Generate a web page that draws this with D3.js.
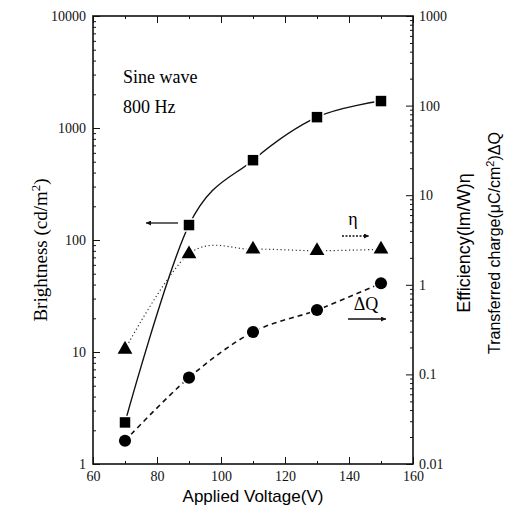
<!DOCTYPE html>
<html lang="en">
<head>
<meta charset="utf-8">
<title>Brightness, efficiency and transferred charge</title>
<script src="https://d3js.org/d3.v7.min.js"></script>
<style>
  body { margin: 0; background: #fff; }
  .tick text { font-family: "Liberation Serif", serif; font-size: 14px; fill: #111; }
  .domain, .tick line { stroke: #111; }
</style>
</head>
<body>
<svg width="512" height="516"></svg>
<script>
// data
var voltage = [70, 90, 110, 130, 150];
var brightness = [2.35, 136, 516, 1250, 1740];     // cd/m2, left axis
var efficiency = [0.19, 2.21, 2.49, 2.40, 2.49];   // lm/W, right axis
var charge = [0.0182, 0.092, 0.297, 0.523, 1.04];  // uC/cm2, right axis
var xTicks = [60, 80, 100, 120, 140, 160];
var leftTicks = [1, 10, 100, 1000, 10000];
var rightTicks = [0.01, 0.1, 1, 10, 100, 1000];

var svg = d3.select("svg");
var L = 93, R = 413, T = 16, B = 464;

var x = d3.scaleLinear().domain([60, 160]).range([L, R]);
var yL = d3.scaleLog().domain([1, 10000]).range([B, T]);
var yR = d3.scaleLog().domain([0.01, 1000]).range([B, T]);

function minors(lo, hi) {
  var out = [];
  for (var d = lo; d < hi; d *= 10)
    for (var k = 2; k < 10; k++) out.push(d * k);
  return out;
}

// frame
svg.append("rect").attr("x", L).attr("y", T).attr("width", R - L).attr("height", B - T)
  .attr("fill", "none").attr("stroke", "#111").attr("stroke-width", 1.6);

// left axis
svg.append("g").attr("transform", "translate(" + L + ",0)")
  .call(d3.axisLeft(yL).tickValues(leftTicks).tickSize(-7).tickPadding(7).tickFormat(d3.format("d")));
svg.append("g").attr("transform", "translate(" + L + ",0)")
  .call(d3.axisLeft(yL).tickValues(minors(1, 10000)).tickSize(-3).tickFormat(""));

// right axis
svg.append("g").attr("transform", "translate(" + R + ",0)")
  .call(d3.axisRight(yR).tickValues(rightTicks).tickSize(-7).tickPadding(6)
    .tickFormat(function(d) { return d < 1 ? String(d) : d3.format("d")(d); }));
svg.append("g").attr("transform", "translate(" + R + ",0)")
  .call(d3.axisRight(yR).tickValues(minors(0.01, 1000)).tickSize(-3).tickFormat(""));

// bottom and top axes
svg.append("g").attr("transform", "translate(0," + B + ")")
  .call(d3.axisBottom(x).tickValues(xTicks).tickSize(-7).tickPadding(7).tickFormat(d3.format("d")));
svg.append("g").attr("transform", "translate(0," + B + ")")
  .call(d3.axisBottom(x).tickValues(d3.range(70, 160, 20)).tickSize(-3).tickFormat(""));
svg.append("g").attr("transform", "translate(0," + T + ")")
  .call(d3.axisTop(x).tickValues(xTicks).tickSize(-7).tickFormat(""));
svg.append("g").attr("transform", "translate(0," + T + ")")
  .call(d3.axisTop(x).tickValues(d3.range(70, 160, 20)).tickSize(-3).tickFormat(""));
svg.selectAll(".domain").remove();

// curves
var curve = d3.curveCardinal.tension(0);
var lineB = d3.line().curve(curve)
  .x(function(d, i) { return x(voltage[i]); }).y(function(d) { return yL(d); });
var lineR = d3.line().curve(curve)
  .x(function(d, i) { return x(voltage[i]); }).y(function(d) { return yR(d); });

svg.append("path").attr("d", lineB(brightness)).attr("fill", "none")
  .attr("stroke", "#111").attr("stroke-width", 1.4);
svg.append("path").attr("d", lineR(efficiency)).attr("fill", "none")
  .attr("stroke", "#333").attr("stroke-width", 1.2).attr("stroke-dasharray", "1.2,2.6");
svg.append("path").attr("d", lineR(charge)).attr("fill", "none")
  .attr("stroke", "#111").attr("stroke-width", 1.6).attr("stroke-dasharray", "5,4");

// markers
var sym = d3.symbol();
function markers(vals, scale, type, size) {
  svg.append("g").selectAll("path").data(vals).enter().append("path")
    .attr("transform", function(d, i) { return "translate(" + x(voltage[i]) + "," + scale(d) + ")"; })
    .attr("d", sym.type(type).size(size)())
    .attr("fill", "#000").attr("stroke", "#fff").attr("stroke-width", 3).attr("paint-order", "stroke");
}
markers(brightness, yL, d3.symbolSquare, 110);
markers(efficiency, yR, d3.symbolTriangle, 95);
markers(charge, yR, d3.symbolCircle, 115);

// arrows
svg.append("defs").append("marker").attr("id", "head")
  .attr("viewBox", "0 -5 10 10").attr("refX", 10).attr("refY", 0)
  .attr("markerWidth", 8).attr("markerHeight", 5).attr("markerUnits", "userSpaceOnUse")
  .attr("orient", "auto")
  .append("path").attr("d", "M0,-5L10,0L0,5Z").attr("fill", "#111");

function arrow(x1, x2, y, dash) {
  svg.append("line").attr("x1", x1).attr("x2", x2).attr("y1", y).attr("y2", y)
    .attr("stroke", "#111").attr("stroke-width", 1.3)
    .attr("stroke-dasharray", dash || null)
    .attr("marker-end", "url(#head)");
}
arrow(178, 146, 223);
arrow(342, 369, 236, "2,1.5");
arrow(348, 386, 319);

// annotations
var serif = "Liberation Serif, serif", sans = "Liberation Sans, Arial, sans-serif";
svg.append("text").attr("x", 123).attr("y", 83).attr("font-family", serif)
  .attr("font-size", 18).text("Sine wave");
svg.append("text").attr("x", 123).attr("y", 113).attr("font-family", serif)
  .attr("font-size", 18).text("800 Hz");
svg.append("text").attr("x", 353).attr("y", 225).attr("text-anchor", "middle")
  .attr("font-family", serif).attr("font-size", 18).text("η");
svg.append("text").attr("x", 366).attr("y", 310).attr("text-anchor", "middle")
  .attr("font-family", serif).attr("font-size", 18).text("ΔQ");

// axis titles
svg.append("text").attr("x", 253).attr("y", 502).attr("text-anchor", "middle")
  .attr("font-family", sans).attr("font-size", 17).text("Applied Voltage(V)");

var yt = svg.append("text").attr("transform", "translate(47,250) rotate(-90)")
  .attr("text-anchor", "middle").attr("font-family", serif).attr("font-size", 19);
yt.append("tspan").text("Brightness (cd/m");
yt.append("tspan").attr("dy", -7).attr("font-size", 13).text("2");
yt.append("tspan").attr("dy", 7).text(")");

svg.append("text").attr("transform", "translate(470,243) rotate(-90)")
  .attr("text-anchor", "middle").attr("font-family", sans).attr("font-size", 18)
  .text("Efficiency(lm/W)η");

var rt = svg.append("text").attr("transform", "translate(500,243) rotate(-90)")
  .attr("text-anchor", "middle").attr("font-family", sans).attr("font-size", 16);
rt.append("tspan").text("Transferred charge(μC/cm");
rt.append("tspan").attr("dy", -6).attr("font-size", 11).text("2");
rt.append("tspan").attr("dy", 6).text(")ΔQ");
</script>
</body>
</html>
